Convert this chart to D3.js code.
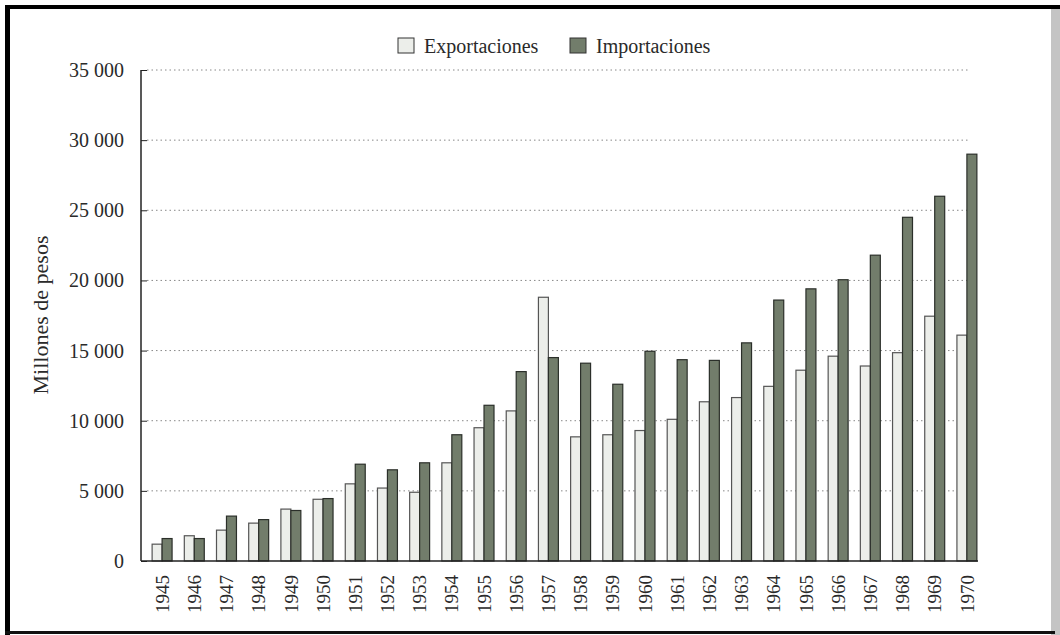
<!DOCTYPE html>
<meta charset="utf-8">
<head>
  <script src="https://d3js.org/d3.v7.min.js"></script>
  <style>
    body { margin: 0; background: #fff; }
    svg text { font-family: "Liberation Serif", "DejaVu Serif", serif; fill: #2a2a2a; }
  </style>
</head>
<body>
  <div id="my_dataviz"></div>
</body>
<script>
  // data (millones de pesos)
  var years = ["1945", "1946", "1947", "1948", "1949", "1950", "1951", "1952", "1953",
    "1954", "1955", "1956", "1957", "1958", "1959", "1960", "1961", "1962", "1963",
    "1964", "1965", "1966", "1967", "1968", "1969", "1970"];
  var exportaciones = [1200, 1800, 2200, 2700, 3700, 4400, 5500, 5200, 4900,
    7000, 9500, 10700, 18800, 8850, 9000, 9300, 10100, 11350, 11650,
    12450, 13600, 14600, 13900, 14850, 17450, 16100];
  var importaciones = [1600, 1600, 3200, 2950, 3600, 4450, 6900, 6500, 7000,
    9000, 11100, 13500, 14500, 14100, 12600, 14950, 14350, 14300, 15550,
    18600, 19400, 20050, 21800, 24500, 26000, 29000];
  var seriesNames = ["Exportaciones", "Importaciones"];
  var yTicks = [0, 5000, 10000, 15000, 20000, 25000, 30000, 35000];

  var W = 1060, H = 635;
  var svg = d3.select("#my_dataviz")
    .append("svg")
    .attr("width", W)
    .attr("height", H);

  // frame like the scanned page
  svg.append("rect").attr("x", 1051).attr("y", 8).attr("width", 9).attr("height", 627).attr("fill", "#c4c4c4");
  svg.append("rect").attr("x", 5).attr("y", 5).attr("width", 1060).attr("height", 4).attr("fill", "#000");
  svg.append("rect").attr("x", 5).attr("y", 5).attr("width", 5).attr("height", 630).attr("fill", "#000");
  svg.append("rect").attr("x", 5).attr("y", 631).attr("width", 1050).attr("height", 3).attr("fill", "#111");

  var colors = { Exportaciones: "#eceeea", Importaciones: "#727d6b" };

  var axisX = 141, x0 = 146, x1 = 983, yTop = 70, yBase = 561;

  var x = d3.scaleBand()
    .domain(years)
    .range([x0, x1])
    .paddingInner(0.38)
    .paddingOuter(0.19);

  var xs = d3.scaleBand()
    .domain(seriesNames)
    .range([0, x.bandwidth()]);

  var y = d3.scaleLinear()
    .domain([0, 35000])
    .range([yBase, yTop]);

  // dotted gridlines
  svg.append("g")
    .selectAll("line")
    .data(yTicks.filter(function (d) { return d > 0; }))
    .enter()
    .append("line")
    .attr("x1", axisX + 6)
    .attr("x2", 968)
    .attr("y1", function (d) { return y(d); })
    .attr("y2", function (d) { return y(d); })
    .attr("stroke", "#888")
    .attr("stroke-width", 1)
    .attr("stroke-dasharray", "1.5,3");

  // Y axis with inward ticks
  var yAxis = svg.append("g")
    .attr("transform", "translate(" + axisX + ",0)")
    .call(d3.axisRight(y).tickValues(yTicks).tickSize(6).tickFormat(""));
  yAxis.select(".domain").attr("stroke", "#222").attr("stroke-width", 1.5).attr("d", "M0," + y(35000) + "V" + yBase);
  yAxis.selectAll(".tick line").attr("stroke", "#222");

  svg.append("g")
    .selectAll("text")
    .data(yTicks)
    .enter()
    .append("text")
    .attr("x", axisX - 17)
    .attr("y", function (d) { return y(d); })
    .attr("dy", "0.35em")
    .attr("text-anchor", "end")
    .style("font-size", "20px")
    .text(function (d) { return d3.format(",")(d).replace(",", " "); });

  // y title
  svg.append("text")
    .attr("transform", "translate(48,315) rotate(-90)")
    .attr("text-anchor", "middle")
    .style("font-size", "22px")
    .text("Millones de pesos");

  // bars
  var rows = years.map(function (yr, i) {
    return { year: yr, vals: [
      { key: "Exportaciones", value: exportaciones[i] },
      { key: "Importaciones", value: importaciones[i] }] };
  });

  var groups = svg.selectAll("g.year")
    .data(rows)
    .enter()
    .append("g")
    .attr("class", "year")
    .attr("transform", function (d) { return "translate(" + x(d.year) + ",0)"; });

  groups.selectAll("rect")
    .data(function (d) { return d.vals; })
    .enter()
    .append("rect")
    .attr("x", function (d) { return xs(d.key); })
    .attr("y", function (d) { return y(d.value); })
    .attr("width", xs.bandwidth())
    .attr("height", function (d) { return yBase - y(d.value); })
    .attr("fill", function (d) { return colors[d.key]; })
    .attr("stroke", function (d) { return d.key == "Exportaciones" ? "#555" : "#2b2f2a"; })
    .attr("stroke-width", 1.2);

  // X axis baseline and rotated year labels
  var xAxis = svg.append("g")
    .attr("transform", "translate(0," + yBase + ")")
    .call(d3.axisBottom(x).tickSize(0));
  xAxis.select(".domain").attr("stroke", "#222").attr("stroke-width", 1.5).attr("d", "M" + axisX + ",0H978");
  xAxis.selectAll("text")
    .attr("transform", "rotate(-90)")
    .attr("x", -14)
    .attr("y", 0)
    .attr("dy", "0.35em")
    .style("text-anchor", "end")
    .style("font-size", "19px")
    .style("font-family", "Liberation Serif, serif")
    .attr("fill", "#2a2a2a");

  // legend
  var legendX = [398, 570];
  var legend = svg.selectAll("g.legend")
    .data(seriesNames)
    .enter()
    .append("g")
    .attr("class", "legend")
    .attr("transform", function (d, i) { return "translate(" + legendX[i] + ",38)"; });
  legend.append("rect")
    .attr("width", 16)
    .attr("height", 15)
    .attr("fill", function (d) { return colors[d]; })
    .attr("stroke", "#333");
  legend.append("text")
    .attr("x", 26)
    .attr("y", 8)
    .attr("dy", "0.35em")
    .style("font-size", "20px")
    .text(function (d) { return d; });
</script>
